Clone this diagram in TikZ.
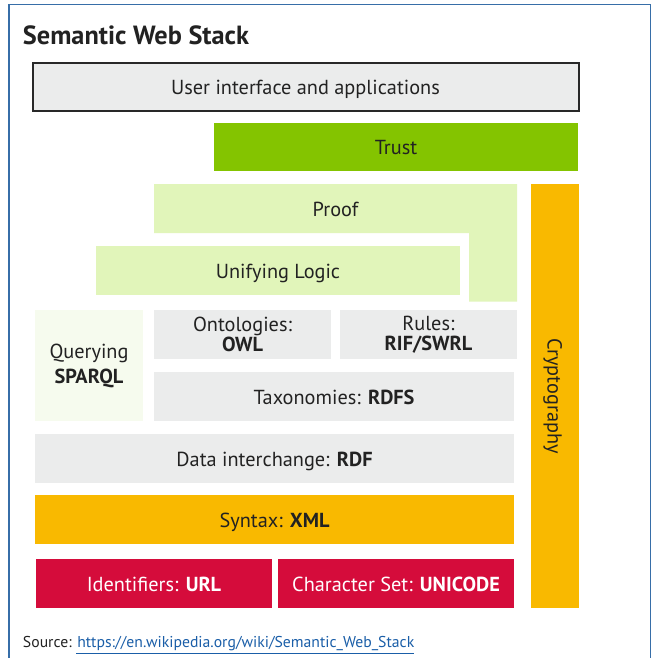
\documentclass[tikz,border=0pt]{standalone}
\usepackage{fontspec}
\setmainfont{PT Sans}
\begin{document}
\begin{tikzpicture}[x=1pt,y=-1pt,
  every node/.style={inner sep=0pt, outer sep=0pt, text=txt, font=\fontsize{20.3}{22}\selectfont},
  blk/.style={rectangle, draw=none, align=center},
  one/.style={text height=17, text depth=2},
  grayblk/.style={blk, fill=grayc},
  lgblk/.style={blk, fill=lgreen},
  redblk/.style={blk, fill=redc, text=white},
  orblk/.style={blk, fill=orangec}]
\definecolor{txt}{RGB}{34,34,34}
\definecolor{grayc}{RGB}{235,236,236}
\definecolor{lgreen}{RGB}{225,245,186}
\definecolor{vlgreen}{RGB}{246,251,238}
\definecolor{trustc}{RGB}{132,196,0}
\definecolor{orangec}{RGB}{249,185,0}
\definecolor{redc}{RGB}{213,12,59}
\definecolor{framec}{RGB}{55,110,168}
\definecolor{linkc}{RGB}{26,94,168}
\definecolor{uiborder}{RGB}{40,40,40}
\useasboundingbox (0,0) rectangle (652,658);
\fill[white] (0,0) rectangle (652,658);
% frame
\draw[framec, line width=1.3pt] (9,670) -- (9,4.5) -- (650.5,4.5) -- (650.5,670);
% title
\node[anchor=west, font=\fontsize{26.3}{28}\selectfont\bfseries] (title) at (23,35) {Semantic Web Stack};
% UI
\node[blk, one, fill=grayc, draw=uiborder, line width=2pt, minimum width=546, minimum height=48] (ui) at (305.5,87) {User interface and applications};
% Trust
\node[blk, one, fill=trustc, minimum width=364, minimum height=48] (trust) at (396,147) {Trust};
% Proof L-shape
\fill[lgreen] (154,184) -- (517,184) -- (517,301.5) -- (469,301.5) -- (469,233) -- (154,233) -- cycle;
\node[one] (proof) at (335.5,208.5) {Proof};
% Unifying logic
\node[lgblk, one, minimum width=364, minimum height=49] (logic) at (278,270.5) {Unifying Logic};
% Cryptography
\node[orblk, minimum width=48, minimum height=424] (crypto) at (555,396) {};
\node[rotate=-90, one] (cryptotext) at (crypto.center) {Cryptography};
% Querying
\node[blk, fill=vlgreen, minimum width=108, minimum height=111] (query) at (89,365.5) {Querying\\[3pt]\textbf{SPARQL}};
% Ontologies, Rules
\node[grayblk, minimum width=177, minimum height=48.5] (owl) at (242.5,334.25) {Ontologies:\\[-2pt]\textbf{OWL}};
\node[grayblk, minimum width=177, minimum height=48.5] (rules) at (428.5,334.25) {Rules:\\[-2pt]\textbf{RIF/SWRL}};
% Taxonomies
\node[grayblk, one, minimum width=360, minimum height=49] (rdfs) at (334,396.5) {Taxonomies: \textbf{RDFS}};
% Data interchange
\node[grayblk, one, minimum width=479, minimum height=49] (rdf) at (274.5,458.5) {Data interchange: \textbf{RDF}};
% Syntax
\node[orblk, one, minimum width=479, minimum height=49] (xml) at (274.5,519.5) {Syntax: \textbf{XML}};
% Identifiers, Character set
\node[redblk, one, minimum width=236, minimum height=49] (url) at (154,583.5) {Identifiers: \textbf{URL}};
\node[redblk, one, minimum width=236, minimum height=49] (unicode) at (396,583.5) {Character Set: \textbf{UNICODE}};
% Source
\node[anchor=base west, font=\fontsize{15.7}{17}\selectfont] (src) at (23,647) {Source: \textcolor{linkc}{https://en.wikipedia.org/wiki/Semantic\_Web\_Stack}};
\coordinate (ulA) at (76,653.5);
\coordinate (ulB) at (src.east|-ulA);
\draw[linkc, line width=0.8pt] (ulA) -- (ulB);
\end{tikzpicture}
\end{document}
